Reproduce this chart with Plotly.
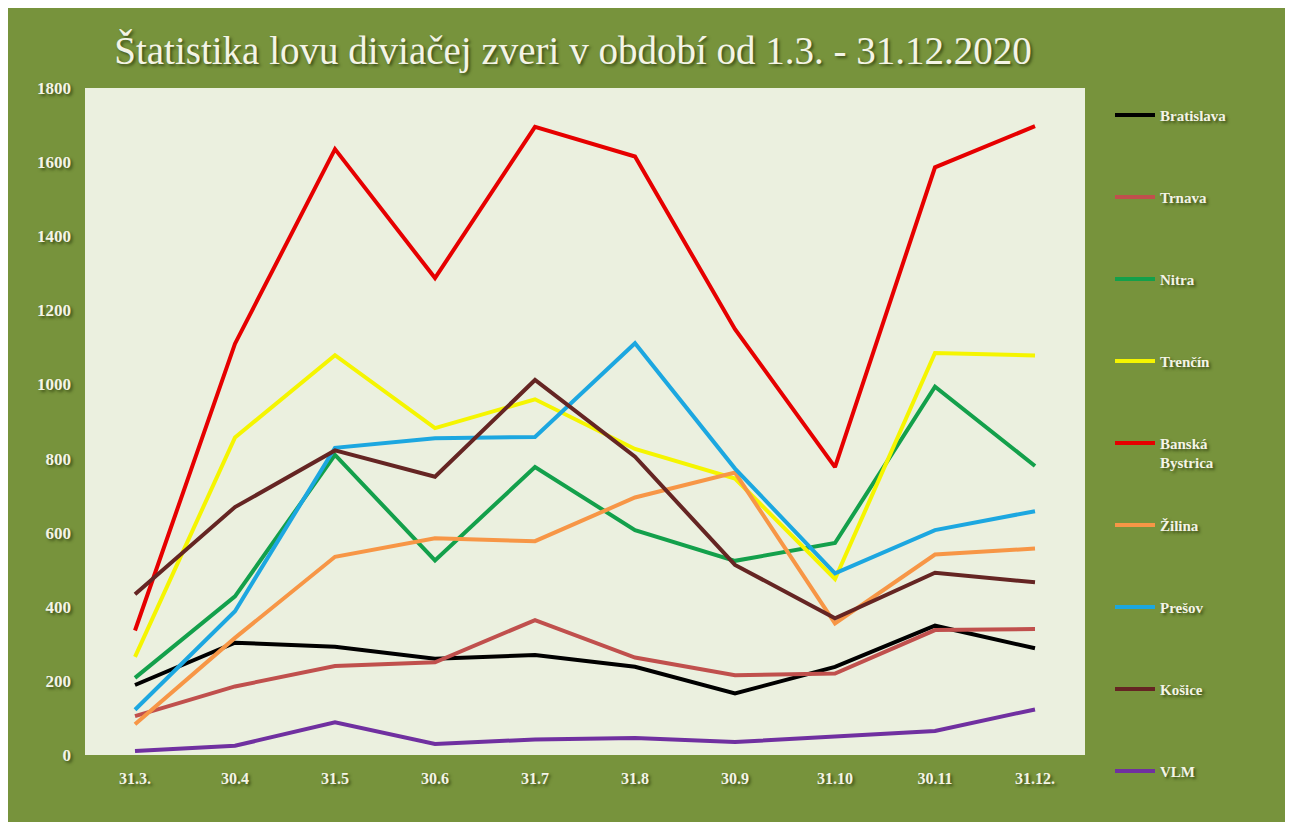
import plotly.graph_objects as go

months = ['31.3.', '30.4', '31.5', '30.6', '31.7', '31.8', '30.9', '31.10', '30.11', '31.12.']

bratislava = [189, 303, 292, 260, 270, 238, 166, 238, 349, 288]
trnava = [105, 185, 240, 250, 364, 263, 215, 220, 337, 340]
nitra = [208, 428, 810, 525, 777, 607, 524, 572, 994, 780]
trencin = [265, 857, 1079, 882, 960, 826, 746, 475, 1085, 1078]
banska_bystrica = [336, 1110, 1635, 1287, 1695, 1615, 1149, 777, 1586, 1697]
zilina = [83, 316, 535, 585, 577, 695, 762, 355, 541, 557]
presov = [122, 388, 829, 855, 858, 1111, 773, 490, 607, 658]
kosice = [434, 669, 822, 751, 1012, 805, 513, 369, 492, 466]
vlm = [11, 25, 88, 30, 42, 46, 35, 49, 65, 123]

series = [
    ('Bratislava', bratislava, '#000000'),
    ('Trnava', trnava, '#C0504D'),
    ('Nitra', nitra, '#13A04B'),
    ('Trenčín', trencin, '#F5F500'),
    ('Banská<br>Bystrica', banska_bystrica, '#E60000'),
    ('Žilina', zilina, '#F79646'),
    ('Prešov', presov, '#1CA7E0'),
    ('Košice', kosice, '#652523'),
    ('VLM', vlm, '#7030A0'),
]

txt = '#F4F4E6'
shadow = '2px 2px 3px #3d4f18'

fig = go.Figure()
for name, vals, color in series:
    # every legend label gets two lines so the entries are evenly spaced
    label = name if '<br>' in name else name + '<br>\u00a0'
    fig.add_trace(go.Scatter(x=months, y=vals, name=label, mode='lines',
                             legendgroup=name,
                             line=dict(color=color, width=4)))

fig.update_layout(
    width=1277, height=814,
    margin=dict(l=77, r=200, t=80, b=67, autoexpand=False),
    paper_bgcolor='#77933C',
    plot_bgcolor='#EBF0DF',
    title=dict(text='Štatistika lovu diviačej zveri v období od 1.3. - 31.12.2020',
               x=0.488, xref='paper', xanchor='center',
               y=0.948, yref='container', yanchor='middle',
               font=dict(family='Liberation Serif', size=39, color=txt,
                         shadow=shadow)),
    font=dict(family='Liberation Serif', size=15, color=txt),
    legend=dict(x=1.025, xanchor='left', y=0.984, yanchor='top',
                bgcolor='rgba(0,0,0,0)', tracegroupgap=40, valign='top',
                maxheight=800,
                font=dict(family='Liberation Serif', size=15, color=txt,
                          weight='bold', shadow=shadow),
                itemwidth=40),
    showlegend=True,
)
fig.update_xaxes(showgrid=False, zeroline=False, showline=False,
                 range=[-0.5, 9.5], ticks='', ticklabelstandoff=12,
                 tickfont=dict(family='Liberation Serif', size=16, color=txt,
                               weight='bold', shadow=shadow))
fig.update_yaxes(showgrid=False, zeroline=False, showline=False,
                 range=[0, 1800], dtick=200, ticks='', ticklabelstandoff=13,
                 tickfont=dict(family='Liberation Serif', size=17, color=txt,
                               weight='bold', shadow=shadow))

fig.write_html("out.html")
